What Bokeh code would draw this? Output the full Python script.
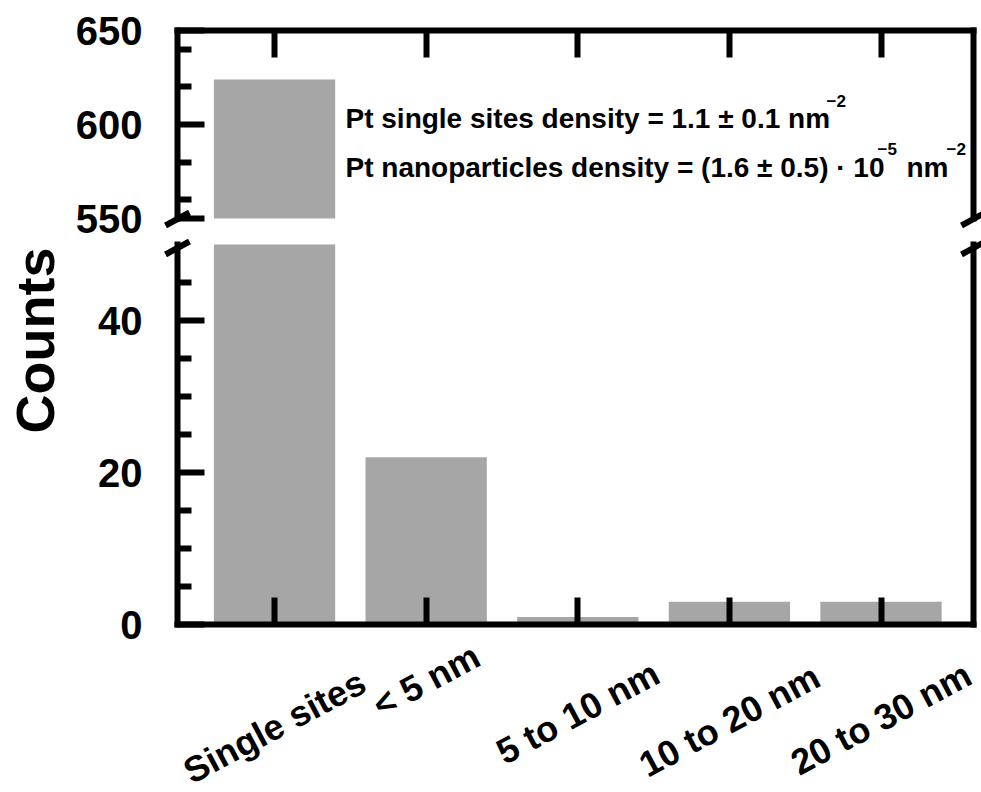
import math
from bokeh.plotting import figure
from bokeh.models import FixedTicker, LinearAxis, Label, Range1d
from bokeh.embed import file_html
from bokeh.resources import INLINE

# ---------------- data ----------------
categories = ["Single sites", "< 5 nm", "5 to 10 nm", "10 to 20 nm", "20 to 30 nm"]
counts = [624, 22, 1, 3, 3]
top_ticks = [550, 600, 650]
top_minor_ticks = [560, 580, 620, 640]
bottom_ticks = [0, 20, 40]
bottom_minor_ticks = [5, 10, 15, 25, 30, 35, 45]
y_label = "Counts"
note_line1 = "Pt single sites density = 1.1 \u00b1 0.1 nm"
note_line1_sup = "\u22122"
note_line2 = "Pt nanoparticles density = (1.6 \u00b1 0.5) \u00b7 10"
note_line2_sup1 = "\u22125"
note_line2_unit = "nm"
note_line2_sup2 = "\u22122"

# ---------------- layout / style ----------------
FONT = "Liberation Sans"
W, H = 981, 791
FRAME_L, FRAME_R = 177, 973          # page x of left / right axis lines
X_START, X_END = 0.36, 5.61          # data x at the axis lines
TOP_LO, TOP_HI = 550, 650            # upper panel value range
TOP_LO_PY, TOP_HI_PY = 218, 30       # page y of 550 / 650
BOT_LO, BOT_HI = 0, 50               # lower panel value range
BOT_LO_PY, BOT_HI_PY = 624, 244      # page y of 0 / 50
BAR_COLOR = "#a6a6a6"
LW = 6
label_drop = [102, 56, 88, 96, 94]   # screen px below the x axis (label centres)
label_angle = math.radians(28)

ppx = (FRAME_R - FRAME_L) / (X_END - X_START)
ppy_top = (TOP_LO_PY - TOP_HI_PY) / (TOP_HI - TOP_LO)
ppy_bot = (BOT_LO_PY - BOT_HI_PY) / (BOT_HI - BOT_LO)


def dx(px):
    return X_START + (px - FRAME_L) / ppx


def dy_top(py):
    return TOP_LO + (TOP_LO_PY - py) / ppy_top


def dy_bot(py):
    return BOT_LO + (BOT_LO_PY - py) / ppy_bot


xs = [i + 1 for i in range(len(categories))]

p = figure(width=W, height=H,
           x_range=Range1d(dx(0), dx(W)),
           y_range=Range1d(dy_bot(H), dy_bot(0)),
           x_axis_location=None, y_axis_location=None,
           output_backend="svg", toolbar_location=None,
           min_border=0, min_border_left=0, min_border_right=0,
           min_border_top=0, min_border_bottom=0,
           outline_line_color=None, background_fill_color="white",
           border_fill_color="white")
p.extra_y_ranges = {"top": Range1d(dy_top(H), dy_top(0))}
p.grid.visible = False


def style_axis(ax, ticks, minor, labels=True):
    ax.ticker = FixedTicker(ticks=ticks, minor_ticks=minor)
    ax.axis_line_width = LW
    ax.axis_line_color = "black"
    ax.axis_line_cap = "square"
    ax.major_tick_in = 27
    ax.major_tick_out = 0
    ax.major_tick_line_width = LW
    ax.major_tick_line_color = "black"
    ax.minor_tick_in = 14
    ax.minor_tick_out = 0
    ax.minor_tick_line_width = LW
    ax.minor_tick_line_color = "black"
    if labels:
        ax.major_label_text_font = FONT
        ax.major_label_text_font_style = "bold"
        ax.major_label_text_font_size = "40px"
        ax.major_label_text_color = "black"
        ax.major_label_standoff = 35
    else:
        ax.major_label_text_font_size = "0px"
        ax.major_label_text_color = None
        ax.major_label_standoff = 0


def bare_axis(ax):
    style_axis(ax, [], [], labels=False)
    ax.major_tick_in = 0
    ax.minor_tick_in = 0


# ---- upper panel axes ----
ax = LinearAxis(y_range_name="top", fixed_location=X_START, bounds=(TOP_LO, TOP_HI))
style_axis(ax, top_ticks, top_minor_ticks)
p.add_layout(ax, "left")
ax = LinearAxis(y_range_name="top", fixed_location=X_END, bounds=(TOP_LO, TOP_HI))
bare_axis(ax)
p.add_layout(ax, "right")
ax = LinearAxis(y_range_name="top", fixed_location=TOP_HI, bounds=(X_START, X_END))
style_axis(ax, xs, [], labels=False)
p.add_layout(ax, "above")

# ---- lower panel axes ----
ax = LinearAxis(fixed_location=X_START, bounds=(BOT_LO, BOT_HI))
style_axis(ax, bottom_ticks, bottom_minor_ticks)
p.add_layout(ax, "left")
ax = LinearAxis(fixed_location=X_END, bounds=(BOT_LO, BOT_HI))
bare_axis(ax)
p.add_layout(ax, "right")
ax = LinearAxis(fixed_location=BOT_LO, bounds=(X_START, X_END))
style_axis(ax, xs, [], labels=False)
p.add_layout(ax, "below")

# ---- bars ----
# lower panel: bars cut at the axis break
bot_tops = [min(c, BOT_HI) for c in counts]
p.vbar(x=xs, top=bot_tops, bottom=BOT_LO, width=0.8, fill_color=BAR_COLOR, line_color=None)
# upper panel: only bars that reach it
up_x = [x for x, c in zip(xs, counts) if c > TOP_LO]
up_top = [c for c in counts if c > TOP_LO]
p.vbar(x=up_x, top=up_top, bottom=TOP_LO, width=0.8, fill_color=BAR_COLOR,
       line_color=None, y_range_name="top")

# ---- break marks ----
for cx in (FRAME_L, FRAME_R):
    p.segment(x0=[dx(cx - 12)], y0=[dy_top(225)], x1=[dx(cx + 12)], y1=[dy_top(212)],
              line_width=LW, line_color="black", y_range_name="top")
    p.segment(x0=[dx(cx - 12)], y0=[dy_bot(254)], x1=[dx(cx + 12)], y1=[dy_bot(241)],
              line_width=LW, line_color="black")


# ---- annotation text ----
def add_text(px, py, text, size, align="left", baseline="alphabetic"):
    p.add_layout(Label(x=dx(px), y=dy_top(py), y_range_name="top", text=text,
                       text_font=FONT, text_font_style="bold", text_font_size=size,
                       text_color="black", text_align=align, text_baseline=baseline))


add_text(345, 118, note_line1, "28px")
add_text(826, 100, note_line1_sup, "17px")
add_text(345, 167, note_line2, "28px")
add_text(877, 148, note_line2_sup1, "17px")
add_text(906, 167, note_line2_unit, "28px")
add_text(946, 148, note_line2_sup2, "17px")

# ---- category labels ----
for x, name, drop in zip(xs, categories, label_drop):
    p.add_layout(Label(x=x, y=BOT_LO, y_offset=-drop, text=name, angle=label_angle,
                       text_font=FONT, text_font_style="bold", text_font_size="36px",
                       text_color="black", text_align="center", text_baseline="middle"))

# ---- y-axis title ----
p.add_layout(Label(x=dx(34), y=dy_bot(340), text=y_label, angle=math.pi / 2,
                   text_font=FONT, text_font_style="bold", text_font_size="54px",
                   text_color="black", text_align="center", text_baseline="middle"))

open("out.html", "w").write(file_html(p, INLINE))
